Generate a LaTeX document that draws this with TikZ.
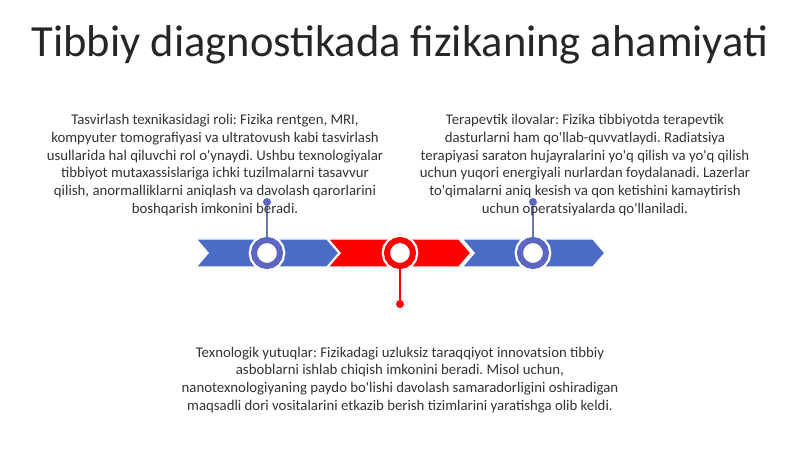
\documentclass[tikz,border=0pt]{standalone}
\usepackage{fontspec}
\setmainfont{Carlito}
\newcommand{\ap}{\textquotesingle}
\frenchspacing
\definecolor{chevblue}{HTML}{4A6CC4}
\definecolor{chevred}{HTML}{FF0000}
\definecolor{ringblue}{HTML}{5B67C2}
\definecolor{stemblue}{HTML}{6A78A8}
\definecolor{bodytext}{HTML}{333333}
\tikzset{
    ring/.style={circle, draw=#1, line width=4.5pt, fill=white, minimum size=19.5pt, inner sep=0,
        preaction={draw=white, line width=8pt}},
    dot/.style={circle, fill=#1, minimum size=6pt, inner sep=0},
    stem/.style={draw=#1, line width=1.2pt},
    blurb/.style={align=center, text=bodytext, font=\fontsize{11.1}{13.4}\selectfont, inner sep=0}
}
\begin{document}
\begin{tikzpicture}[x=0.75pt, y=-0.75pt]
            \useasboundingbox (0, 0) rectangle (800, 449);
            %\draw[lightgray] (0, 0) grid[step=50] (800, 449);
            \node[text=black!85, font=\fontsize{33.4}{40}\selectfont] (title) at (400, 45) {Tibbiy diagnostikada fizikaning ahamiyati};
            \foreach \x/\c in {196/chevblue, 328/chevred, 462/chevblue}
                \draw[fill=\c, draw=white, line width=1.1pt] (\x, 239) -- (\x + 131, 239) -- (\x + 143, 253) -- (\x + 131, 267) -- (\x, 267) -- (\x + 12, 253) -- cycle;
            \node[ring=ringblue] (c1) at (267, 253) {};
            \node[ring=chevred] (c2) at (400, 253) {};
            \node[ring=ringblue] (c3) at (533, 253) {};
            \node[dot=ringblue] (d1) at (267, 202) {};
            \node[dot=chevred] (d2) at (400, 304) {};
            \node[dot=ringblue] (d3) at (533, 202) {};
            \draw[stem=stemblue] (c1) -- (d1);
            \draw[stem=chevred] (c2) -- (d2);
            \draw[stem=stemblue] (c3) -- (d3);
            \node[blurb] (t1) at (215, 165) {Tasvirlash texnikasidagi roli: Fizika rentgen, MRI,\\ kompyuter tomografiyasi va ultratovush kabi tasvirlash\\ usullarida hal qiluvchi rol o\ap ynaydi. Ushbu texnologiyalar\\ tibbiyot mutaxassislariga ichki tuzilmalarni tasavvur\\ qilish, anormalliklarni aniqlash va davolash qarorlarini\\ boshqarish imkonini beradi.};
            \node[blurb] (t3) at (585, 165) {Terapevtik ilovalar: Fizika tibbiyotda terapevtik\\ dasturlarni ham qo\ap llab-quvvatlaydi. Radiatsiya\\ terapiyasi saraton hujayralarini yo\ap q qilish va yo\ap q qilish\\ uchun yuqori energiyali nurlardan foydalanadi. Lazerlar\\ to\ap qimalarni aniq kesish va qon ketishini kamaytirish\\ uchun operatsiyalarda qo\ap llaniladi.};
            \node[blurb] (t2) at (400, 380) {Texnologik yutuqlar: Fizikadagi uzluksiz taraqqiyot innovatsion tibbiy\\ asboblarni ishlab chiqish imkonini beradi. Misol uchun,\\ nanotexnologiyaning paydo bo\ap lishi davolash samaradorligini oshiradigan\\ maqsadli dori vositalarini etkazib berish tizimlarini yaratishga olib keldi.};
        \end{tikzpicture}
\end{document}
